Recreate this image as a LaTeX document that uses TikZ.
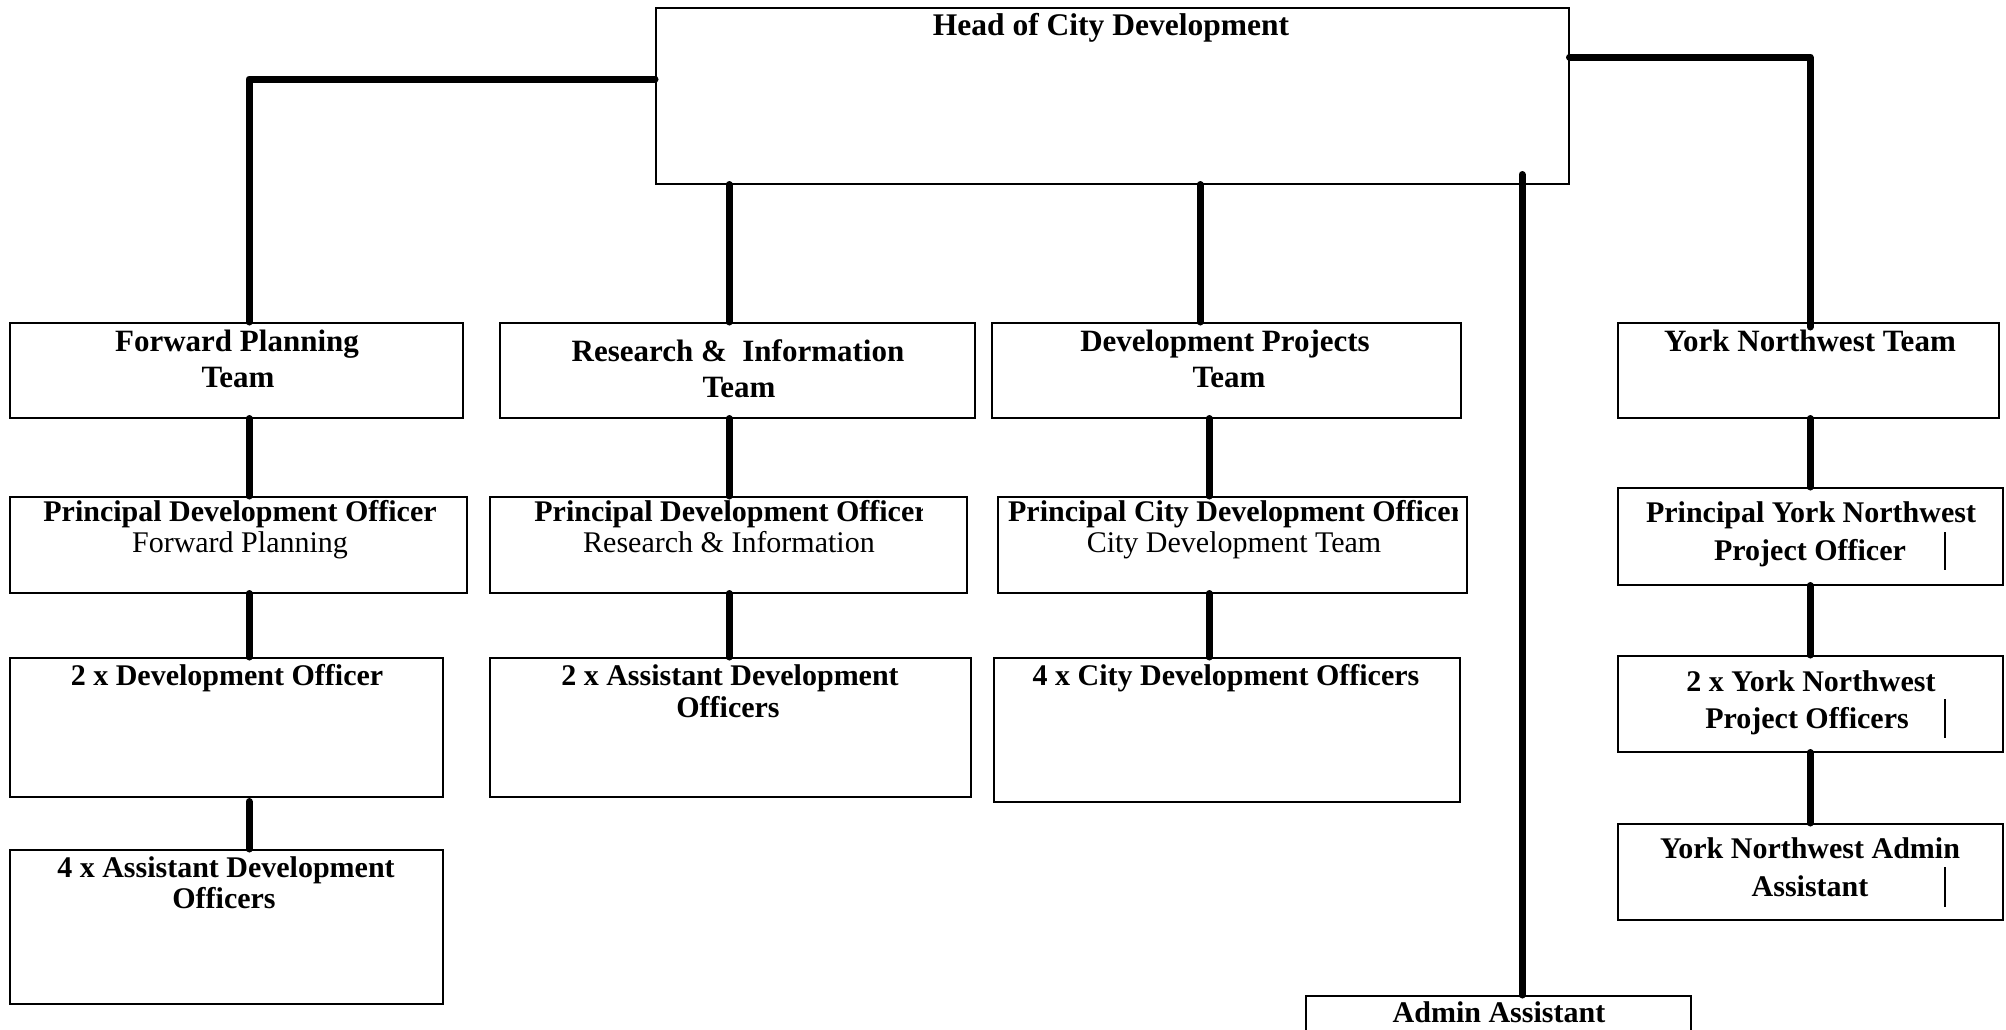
\documentclass[tikz,border=0pt]{standalone}
\usepackage{fontspec}
\setmainfont{Liberation Serif}
\usetikzlibrary{calc}
\tikzset{
  box/.style={draw=black, line width=1.5pt, inner sep=0pt, anchor=north west},
  conn/.style={draw=black, line width=7pt, line cap=round, line join=round},
  lbl/.style={anchor=base, inner sep=0pt, font=\fontsize{30}{36}\selectfont\bfseries},
  lblr/.style={anchor=base, inner sep=0pt, font=\fontsize{30}{36}\selectfont},
  teamlbl/.style={anchor=base, inner sep=0pt, font=\fontsize{31}{36}\selectfont\bfseries},
  headlbl/.style={anchor=base, inner sep=0pt, font=\fontsize{31.5}{36}\selectfont\bfseries},
  cursorbar/.style={draw=black, line width=1.5pt}
}
\begin{document}
\begin{tikzpicture}[x=1pt,y=-1pt]
\useasboundingbox (0,0) rectangle (2006,1029);
% boxes
\node[box, minimum width=913pt, minimum height=176pt] (head) at (655,7) {};
\node[box, minimum width=453pt, minimum height=95pt] (fp) at (9,322) {};
\node[box, minimum width=475pt, minimum height=95pt] (ri) at (499,322) {};
\node[box, minimum width=469pt, minimum height=95pt] (dp) at (991,322) {};
\node[box, minimum width=381pt, minimum height=95pt] (ynw) at (1617,322) {};
\node[box, minimum width=457pt, minimum height=96pt] (pfp) at (9,496) {};
\node[box, minimum width=477pt, minimum height=96pt] (pri) at (489,496) {};
\node[box, minimum width=469pt, minimum height=96pt] (pcd) at (997,496) {};
\node[box, minimum width=385pt, minimum height=97pt] (pyn) at (1617,487) {};
\node[box, minimum width=433pt, minimum height=139pt] (dfp) at (9,657) {};
\node[box, minimum width=481pt, minimum height=139pt] (dri) at (489,657) {};
\node[box, minimum width=466pt, minimum height=144pt] (dcd) at (993,657) {};
\node[box, minimum width=385pt, minimum height=96pt] (yno) at (1617,655) {};
\node[box, minimum width=433pt, minimum height=154pt] (afp) at (9,849) {};
\node[box, minimum width=385pt, minimum height=96pt] (yna) at (1617,823) {};
\node[box, minimum width=385pt, minimum height=90pt] (adm) at (1305,995) {};

% connector columns
\coordinate (fpx) at (249,0);
\coordinate (rix) at (729,0);
\coordinate (dpx) at (1200,0);
\coordinate (cdx) at (1209,0);
\coordinate (admx) at (1522,0);
\coordinate (ynx) at (1810,0);

% connectors
\draw[conn] ([yshift=-72pt]head.north west) -| (fp.north -| fpx);
\draw[conn] ([yshift=-50pt]head.north east) -| ($(ynw.north -| ynx)+(0,5)$);
\draw[conn] (head.south -| rix) -- (ri.north -| rix);
\draw[conn] (head.south -| dpx) -- (dp.north -| dpx);
\draw[conn] ($(head.south -| admx)+(0,-10)$) -- (adm.north -| admx);
\draw[conn] (fp.south -| fpx) -- (pfp.north -| fpx);
\draw[conn] (pfp.south -| fpx) -- (dfp.north -| fpx);
\draw[conn] ($(dfp.south -| fpx)+(0,4)$) -- (afp.north -| fpx);
\draw[conn] (ri.south -| rix) -- (pri.north -| rix);
\draw[conn] (pri.south -| rix) -- (dri.north -| rix);
\draw[conn] (dp.south -| cdx) -- (pcd.north -| cdx);
\draw[conn] (pcd.south -| cdx) -- (dcd.north -| cdx);
\draw[conn] (ynw.south -| ynx) -- (pyn.north -| ynx);
\draw[conn] (pyn.south -| ynx) -- (yno.north -| ynx);
\draw[conn] (yno.south -| ynx) -- (yna.north -| ynx);

% texts
\node[headlbl] (tHead) at (1111,35) {Head of City Development};
\node[teamlbl] (tFp1) at (237,351) {Forward Planning};
\node[teamlbl] (tFp2) at (238,387) {Team};
\node[teamlbl] (tRi1) at (738,361) {Research \&\ \ Information};
\node[teamlbl] (tRi2) at (739,397) {Team};
\node[teamlbl] (tDp1) at (1225,351) {Development Projects};
\node[teamlbl] (tDp2) at (1229,387) {Team};
\node[teamlbl] (tYnw) at (1810,351) {York Northwest Team};

\node[lbl] (tPfp1) at (240,521) {Principal Development Officer};
\node[lblr] (tPfp2) at (240,552) {Forward Planning};
\begin{scope}
  \clip (489,496) rectangle (922,592);
  \node[lbl] (tPri1) at (731,521) {Principal Development Officer};
\end{scope}
\node[lblr] (tPri2) at (729,552) {Research \& Information};
\begin{scope}
  \clip (997,496) rectangle (1457,592);
  \node[lbl] (tPcd1) at (1236,521) {Principal City Development Officer};
\end{scope}
\node[lblr] (tPcd2) at (1234,552) {City Development Team};
\node[lbl] (tPyn1) at (1811,522) {Principal York Northwest};
\node[lbl] (tPyn2) at (1810,560) {Project Officer};

\node[lbl] (tDfp) at (227,685) {2 x Development Officer};
\node[lbl] (tDri1) at (730,685) {2 x Assistant Development};
\node[lbl] (tDri2) at (728,717) {Officers};
\node[lbl] (tDcd) at (1226,685) {4 x City Development Officers};
\node[lbl] (tYno1) at (1811,691) {2 x York Northwest};
\node[lbl] (tYno2) at (1807,728) {Project Officers};

\node[lbl] (tAfp1) at (226,877) {4 x Assistant Development};
\node[lbl] (tAfp2) at (224,908) {Officers};
\node[lbl] (tYna1) at (1810,858) {York Northwest Admin};
\node[lbl] (tYna2) at (1810,896) {Assistant};
\node[lbl] (tAdm) at (1499,1022) {Admin Assistant};

% text cursor bars
\draw[cursorbar] (1945,532) -- (1945,570);
\draw[cursorbar] (1945,699) -- (1945,738);
\draw[cursorbar] (1945,867) -- (1945,907);
\end{tikzpicture}
\end{document}
